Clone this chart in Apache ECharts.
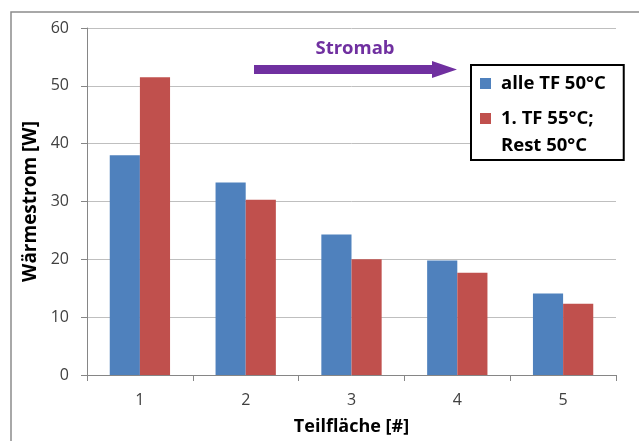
<!DOCTYPE html>
<html>
<head>
<meta charset="utf-8">
<script src="https://cdn.jsdelivr.net/npm/echarts@6/dist/echarts.min.js"></script>
<style>
  html, body { margin: 0; padding: 0; background: #fff; }
  #chart { width: 639px; height: 441px; }
</style>
</head>
<body>
<div id="chart"></div>
<script>
// Teilflächen (segments along the flow direction)
const categories = ['1', '2', '3', '4', '5'];
// Heat flow per segment [W]
const seriesNames = ['alle TF 50°C', '1. TF 55°C;\nRest 50°C'];
const allTF50 = [38.0, 33.3, 24.3, 19.8, 14.1];
const firstTF55 = [51.5, 30.3, 20.0, 17.7, 12.3];
const yTicks = { min: 0, max: 60, interval: 10 };

const FONT = 'Open Sans';
const chart = echarts.init(document.getElementById('chart'), null, { renderer: 'canvas' });

chart.setOption({
  animation: false,
  backgroundColor: '#ffffff',
  textStyle: { fontFamily: FONT },
  grid: { left: 87, right: 23, top: 28, bottom: 64, containLabel: false },
  legend: {
    orient: 'vertical',
    left: 471,
    top: 65,
    selectedMode: false,
    itemWidth: 11,
    itemHeight: 11,
    itemGap: -19,
    icon: 'rect',
    padding: [5, 18, 1, 9],
    borderColor: '#000000',
    borderWidth: 2,
    backgroundColor: '#ffffff',
    data: seriesNames,
    // the blank first line keeps the marker beside the first text line
    formatter: name => (name.indexOf('\n') >= 0 ? '\n' + name : name),
    textStyle: {
      fontFamily: FONT,
      fontWeight: 'bold',
      fontSize: 18.5,
      lineHeight: 27,
      color: '#000000',
      padding: [0, 0, 0, 5]
    }
  },
  xAxis: {
    type: 'category',
    data: categories,
    name: 'Teilfläche [#]',
    nameLocation: 'middle',
    nameGap: 43,
    nameTextStyle: { fontFamily: FONT, fontWeight: 'bold', fontSize: 18, color: '#000000' },
    axisLine: { lineStyle: { color: '#868686', width: 1 } },
    axisTick: { show: true, alignWithLabel: false, length: 6, lineStyle: { color: '#868686' } },
    axisLabel: { fontFamily: FONT, fontSize: 16, color: '#404040', margin: 17 },
    splitLine: { show: false }
  },
  yAxis: {
    type: 'value',
    min: yTicks.min,
    max: yTicks.max,
    interval: yTicks.interval,
    name: 'Wärmestrom [W]',
    nameLocation: 'middle',
    nameGap: 40,
    nameTextStyle: { fontFamily: FONT, fontWeight: 'bold', fontSize: 19, color: '#000000' },
    axisLine: { show: true, lineStyle: { color: '#868686', width: 1 } },
    axisTick: { show: true, length: 6, lineStyle: { color: '#868686' } },
    axisLabel: { fontFamily: FONT, fontSize: 16, color: '#404040', margin: 18 },
    splitLine: { show: true, lineStyle: { color: '#bfbfbf', width: 1 } }
  },
  series: [
    {
      name: seriesNames[0],
      type: 'bar',
      data: allTF50,
      barGap: '0%',
      barCategoryGap: '43%',
      itemStyle: { color: '#4f81bd' }
    },
    {
      name: seriesNames[1],
      type: 'bar',
      data: firstTF55,
      barGap: '0%',
      barCategoryGap: '43%',
      itemStyle: { color: '#c0504d' }
    }
  ],
  graphic: [
    // outer chart frame
    {
      type: 'rect',
      shape: { x: 11, y: 12, width: 640, height: 440 },
      style: { fill: 'none', stroke: '#8c8c8c', lineWidth: 1.5 },
      silent: true,
      z: -1
    },
    // flow direction arrow
    {
      type: 'polygon',
      shape: {
        points: [[254, 65], [432, 65], [432, 61], [457, 69.5], [432, 78], [432, 74], [254, 74]]
      },
      style: { fill: '#7030a0' },
      silent: true
    },
    {
      type: 'text',
      x: 355,
      y: 49,
      style: {
        text: 'Stromab',
        fontFamily: FONT,
        fontWeight: 'bold',
        fontSize: 18.5,
        fill: '#7030a0',
        align: 'center',
        verticalAlign: 'middle'
      },
      silent: true
    }
  ]
});
</script>
</body>
</html>
